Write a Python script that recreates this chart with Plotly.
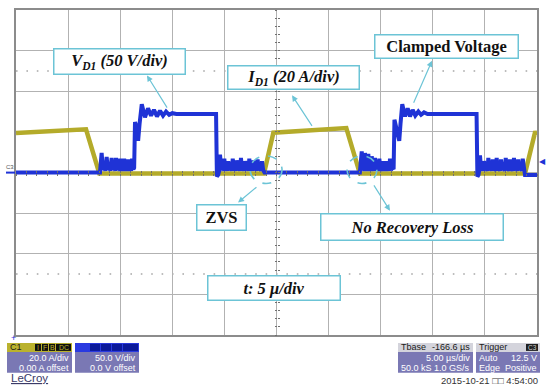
import plotly.graph_objects as go

# ---------------- data ----------------
A_PER_DIV = 20.0      # C1 : I_D1
V_PER_DIV = 50.0      # C3 : V_D1
T_PER_DIV = 5.0       # µs/div

# diode current I_D1 [A] vs time [µs]
t_id1 = [0.0, 6.72, 8.0, 23.8, 24.7, 31.7, 33.0, 48.85, 49.8, 50.0]
i_d1 = [19.4, 21.3, -0.5, -0.5, 19.6, 21.9, -0.5, -0.5, 19.5, 19.6]

# diode voltage V_D1 [V] vs time [µs]
t_vd1 = [
    0.0, 8.06,
    8.22, 8.34, 8.46, 8.56, 8.70, 8.82, 8.94, 9.04, 9.18, 9.30, 9.42, 9.50,
    9.60, 9.72, 9.84, 9.92, 10.00, 10.12, 10.24, 10.30, 10.38, 10.50, 10.62, 10.68,
    10.76, 10.88, 11.00, 11.06, 11.14, 11.26, 11.34,
    11.42, 11.52, 11.72, 11.86, 12.07, 12.38, 12.67, 12.96, 13.24, 13.53, 13.82,
    14.11, 14.40, 14.70, 15.00, 15.40, 16.5, 18.0, 19.20,
    19.28, 19.40, 19.50,
    19.58, 19.70, 19.82, 19.90, 19.99, 20.10, 20.22, 20.29, 20.37, 20.48, 20.62, 20.71,
    20.80, 20.92, 21.04, 21.10, 21.18, 21.30, 21.44, 21.51, 21.59, 21.70, 21.84, 21.90,
    21.98, 22.10, 22.24, 22.31, 22.39, 22.50, 22.64, 22.70, 22.78, 22.90, 23.04, 23.11,
    23.19, 23.30, 23.44, 23.52, 23.61, 23.72, 23.85,
    33.00,
    33.18, 33.28, 33.36, 33.42, 33.49, 33.60, 33.68, 33.74, 33.81, 33.92, 34.00, 34.07,
    34.14, 34.25, 34.33, 34.39, 34.45, 34.58, 34.70, 34.79, 34.87, 34.98, 35.08, 35.17,
    35.25, 35.36, 35.44, 35.51, 35.58, 35.69, 35.77, 35.83, 35.89, 36.00, 36.12, 36.24,
    36.32, 36.45, 36.78, 36.90, 37.07, 37.33, 37.59, 37.81, 38.07, 38.32, 38.61, 38.87,
    39.16, 39.50, 41.0, 42.5, 44.20,
    44.28, 44.38, 44.45,
    44.53, 44.64, 44.76, 44.84, 44.91, 45.02, 45.15, 45.25, 45.33, 45.44, 45.57, 45.66,
    45.75, 45.86, 45.98, 46.06, 46.13, 46.24, 46.37, 46.46, 46.55, 46.66, 46.80, 46.91,
    47.00, 47.11, 47.24, 47.33, 47.41, 47.52, 47.63, 47.71, 47.79, 47.90, 48.03, 48.12,
    48.20, 48.31, 48.45, 48.55, 48.63, 48.74, 48.85, 50.0,
]
v_d1 = [
    0, 0,
    24, 3, 8, 2, 19, 3, 8, 2, 18, 3, 7, 2,
    18, 3, 7, 2, 17, 3, 6, 2, 17, 3, 6, 2,
    16, 3, 6, 2, 17, 4, 6,
    62, 58, 39, 60, 84, 68, 79, 70, 77, 69, 76,
    70, 75, 71, 73, 72, 72.5, 72, 72,
    -5, -3, 2,
    22, 3, 8, 2, 17, 3, 7, 2, 14, 3, 7, 2,
    17, 3, 6, 2, 15, 3, 7, 2, 18, 3, 6, 2,
    14, 3, 7, 2, 17, 3, 6, 2, 15, 3, 6, 2,
    16, 3, 6, 2, 14, 3, 0,
    0,
    26, 3, 7, 2, 24, 3, 7, 2, 23, 3, 7, 2,
    20, 3, 6, 2, 18, 3, 7, 2, 17, 3, 6, 2,
    14, 3, 6, 2, 14, 3, 6, 2, 17, 3, 6, 4,
    65, 58, 39, 60, 84, 69, 79, 69, 77, 70, 75, 71,
    74, 72, 72.5, 72, 72,
    -5, -3, 2,
    21, 3, 7, 2, 14, 3, 7, 2, 18, 3, 7, 2,
    16, 3, 6, 2, 18, 3, 6, 2, 16, 3, 6, 2,
    18, 3, 6, 2, 16, 3, 6, 2, 18, 3, 6, 2,
    16, 3, 6, 2, 17, 3, -3, -3,
]

# ---------------- figure ----------------
W, H = 550, 391
ML, MR, MT, MB = 16, 13, 8, 56
PW, PH = W - ML - MR, H - MT - MB


def px(x, y):
    """pixel position -> paper coordinates (for scope-frame decorations)"""
    return (x - ML) / PW, (H - MB - y) / PH


YEL = "#b4ab2a"
BLU = "#1f33d6"
CYAN = "#6cc4d6"
PURPLE = "#7a78b4"

fig = go.Figure()
fig.add_trace(go.Scatter(x=t_id1, y=[a / A_PER_DIV for a in i_d1], mode="lines",
                         line=dict(color=YEL, width=4.5), hoverinfo="skip", showlegend=False))
fig.add_trace(go.Scatter(x=t_vd1, y=[v / V_PER_DIV for v in v_d1], mode="lines",
                         line=dict(color=BLU, width=4), hoverinfo="skip", showlegend=False))
# dummy traces so that the centre tick axes are drawn
for xa, ya in [("x", "y2"), ("x", "y3"), ("x2", "y"), ("x3", "y")]:
    fig.add_trace(go.Scatter(x=[None], y=[None], xaxis=xa, yaxis=ya, showlegend=False, hoverinfo="skip"))

GRID = "#b2b2b2"
axis_common = dict(showticklabels=False, zeroline=False, showgrid=True, gridcolor=GRID, gridwidth=1,
                   showline=True, linecolor="#8c8c8c", linewidth=1.5, mirror=True, ticks="", fixedrange=True)
center_tick = dict(showticklabels=False, zeroline=False, showgrid=False, showline=False,
                   ticklen=2, tickwidth=1, tickcolor="#707070", fixedrange=True)

fig.update_layout(
    width=W, height=H, margin=dict(l=ML, r=MR, t=MT, b=MB),
    paper_bgcolor="white", plot_bgcolor="white",
    xaxis=dict(range=[0, 10 * T_PER_DIV], dtick=T_PER_DIV, tick0=0, **axis_common),
    yaxis=dict(range=[-4, 4], dtick=1, tick0=0, **axis_common),
    yaxis2=dict(overlaying="y", anchor="free", position=0.5, range=[-4, 4], dtick=0.2, tick0=0,
                ticks="outside", **center_tick),
    yaxis3=dict(overlaying="y", anchor="free", position=0.5, range=[-4, 4], dtick=0.2, tick0=0,
                ticks="inside", **center_tick),
    xaxis2=dict(overlaying="x", anchor="free", position=0.5, range=[0, 50], dtick=1, tick0=0,
                ticks="outside", **center_tick),
    xaxis3=dict(overlaying="x", anchor="free", position=0.5, range=[0, 50], dtick=1, tick0=0,
                ticks="inside", **center_tick),
    showlegend=False,
)

shapes = []
# dotted reference lines at +/-2.5 div
for yy in (2.5, -2.5):
    shapes.append(dict(type="line", xref="x", yref="y", x0=0, x1=50, y0=yy, y1=yy, layer="below",
                       line=dict(color="#a8a8a8", width=1.6, dash="1.6px,8.8px")))
# dashed ellipses (ZVS / no recovery loss)
for x0, x1 in ((22.46, 25.53), (31.77, 34.64)):
    shapes.append(dict(type="circle", xref="x", yref="y", x0=x0, x1=x1, y0=-0.27, y1=0.41,
                       line=dict(color=CYAN, width=1.6, dash="dash")))


def rect(x0, y0, x1, y1, color):
    a, b = px(x0, y0)
    c, d = px(x1, y1)
    shapes.append(dict(type="rect", xref="paper", yref="paper", x0=a, x1=c, y0=d, y1=b,
                       fillcolor=color, line=dict(width=0), layer="above"))


# channel / timebase panels
rect(7, 343, 72, 373, PURPLE)
rect(7, 343, 72, 352, "#bab22e")
for a, b in ((35, 41), (42, 48), (49, 55), (56, 71)):
    rect(a, 344, b, 351, "#101010")
rect(75, 343, 139, 373, PURPLE)
rect(75, 343, 139, 352, "#2a3ae0")
for a, b in ((90, 100), (101, 111), (112, 122), (123, 138)):
    rect(a, 344, b, 351, "#0c1a9a")
rect(398, 343, 473, 373, PURPLE)
rect(398, 343, 473, 352, "#d4d4dc")
rect(476, 343, 540, 373, PURPLE)
rect(476, 343, 540, 352, "#d4d4dc")
rect(526, 344, 538, 351, "#202020")
# C3 baseline marker on the left edge
a, b = px(6, 171.6)
c, d = px(15, 171.6)
shapes.append(dict(type="line", xref="paper", yref="paper", x0=a, x1=c, y0=b, y1=d,
                   line=dict(color=BLU, width=2)))
fig.update_layout(shapes=shapes)

ann = []
SERIF = "Liberation Serif"


def box(text, x, y, w, h, size=16.5):
    ann.append(dict(text=text, x=x, y=y, xref="x", yref="y", xanchor="center", yanchor="middle",
                    showarrow=False, width=w - 3, height=h - 3, borderpad=0, borderwidth=1.5,
                    bordercolor=CYAN, bgcolor="white", align="center",
                    font=dict(family=SERIF, size=size, color="#111111")))


box("<b><i>V<sub>D1</sub> (50 V/div)</i></b>", 9.93, 2.74, 133, 27)
box("<b><i>I<sub>D1</sub> (20 A/div)</i></b>", 26.63, 2.33, 133, 25)
box("<b>Clamped Voltage</b>", 41.31, 3.11, 145, 25)
box("<b>ZVS</b>", 19.72, -1.10, 51, 27)
box("<b><i>No Recovery Loss</i></b>", 38.0, -1.35, 184, 28)
box("<b><i>t: 5 μ/div</i></b>", 24.76, -2.85, 134, 26)


def arrow(hx, hy, tx, ty):
    ann.append(dict(text="", x=hx, y=hy, ax=tx, ay=ty, xref="x", yref="y", axref="x", ayref="y",
                    showarrow=True, arrowhead=2, arrowsize=1, arrowwidth=1.2, arrowcolor=CYAN))


arrow(12.57, 2.39, 14.59, 1.56)
arrow(26.49, 1.90, 28.50, 1.11)
arrow(39.92, 2.75, 38.10, 1.68)
arrow(21.31, -0.74, 23.22, -0.33)
arrow(35.89, -0.94, 34.26, -0.28)


def ptext(text, x, y, anchor="left", size=9, color="white", family="Liberation Sans"):
    a, b = px(x, y)
    ann.append(dict(text=text, x=a, y=b, xref="paper", yref="paper", xanchor=anchor, yanchor="middle",
                    showarrow=False, font=dict(family=family, size=size, color=color)))


ptext("C1", 8, 347.5, color="#1a1a1a")
for x, s in ((38, "I"), (45, "F"), (52, "B"), (63.5, "DC")):
    ptext(s, x, 347.5, anchor="center", size=7, color="#bab22e")
ptext("20.0 A/div", 71, 358, anchor="right")
ptext("0.00 A offset", 71, 368, anchor="right")
ptext("50.0 V/div", 138, 358, anchor="right")
ptext("0.0 V offset", 138, 368, anchor="right")
ptext("Tbase", 399, 347.5, color="#1a1a1a")
ptext("-166.6 µs", 472, 347.5, anchor="right", color="#1a1a1a")
ptext("5.00 µs/div", 472, 358, anchor="right")
ptext("50.0 kS", 399, 368)
ptext("1.0 GS/s", 472, 368, anchor="right")
ptext("Trigger", 477, 347.5, color="#1a1a1a")
ptext("C3", 532, 347.5, anchor="center", size=6.5, color="#d0d0d0")
ptext("Auto", 477, 358)
ptext("12.5 V", 539, 358, anchor="right")
ptext("Edge", 477, 368)
ptext("Positive", 539, 368, anchor="right")
ptext("2015-10-21 □□ 4:54:00", 489, 381, anchor="center", size=9.5, color="#333333")
ptext('<span style="text-decoration:underline">LeCroy</span>', 9, 378, size=11.5, color="#3b3b68")
ptext("C3", 10, 166, anchor="center", size=6, color="#555555")
ptext("◀", 542, 160, anchor="center", size=8, color=BLU)
ptext("+", 13, 338, anchor="center", size=9, color=BLU)

fig.update_layout(annotations=ann)
fig.write_html("out.html", config={"displayModeBar": False},
               post_script="document.body.style.margin='0';document.body.style.padding='0';")
